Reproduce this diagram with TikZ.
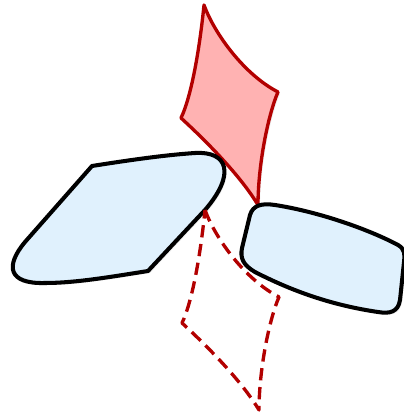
\documentclass[tikz,border=0pt]{standalone}
\usepackage{xcolor}
\usepackage{tikz}
\usetikzlibrary{shadows}

\definecolor{kitered}{RGB}{178,0,0}
\definecolor{kitefill}{RGB}{255,178,178}
\definecolor{padfill}{RGB}{224,241,253}

% the four-pointed kite, in pixel units
\newcommand{\kitepath}{(204,5) .. controls (215,35) and (245,75) .. (278,92)
  .. controls (268,115) and (258,165) .. (258,205)
  .. controls (240,175) and (205,140) .. (181,118)
  .. controls (192,95) and (200,45) .. cycle}

\begin{document}
\begin{tikzpicture}[
  x=0.02cm, y=-0.02cm,
  kite/.style={draw=kitered, line width=1.9pt, fill=kitefill, line join=round,
    drop shadow={opacity=0.12, shadow xshift=1.2pt, shadow yshift=-1.2pt}},
  ghost/.style={draw=kitered, line width=1.9pt, dash pattern=on 7pt off 3.8pt, line join=round},
  pad/.style={draw=black, line width=2.3pt, fill=padfill, line join=round,
    drop shadow={opacity=0.12, shadow xshift=1.2pt, shadow yshift=-1.2pt}},
]
\useasboundingbox (0,0) rectangle (403,418);
% solid kite
\path[kite] \kitepath;
% left pad
\path[pad] (92,166) .. controls (130,160) and (165,155) .. (195,153)
  .. controls (228,151) and (236,174) .. (205,210)
  -- (148,271) .. controls (110,277) and (75,283) .. (45,283)
  .. controls (8,284) and (5,266) .. (25,242) -- cycle;
% right pad
\path[pad] (250,215) .. controls (253,205) and (262,203) .. (275,205)
  .. controls (320,212) and (370,230) .. (398,245)
  .. controls (405,249) and (405,255) .. (404,262)
  -- (400,300) .. controls (398,312) and (390,314) .. (378,312)
  .. controls (330,305) and (290,290) .. (255,272)
  .. controls (243,265) and (240,258) .. (242,248) -- cycle;
% dashed copy of the kite
\path[ghost, shift={(1,205)}] \kitepath;
\end{tikzpicture}
\end{document}
